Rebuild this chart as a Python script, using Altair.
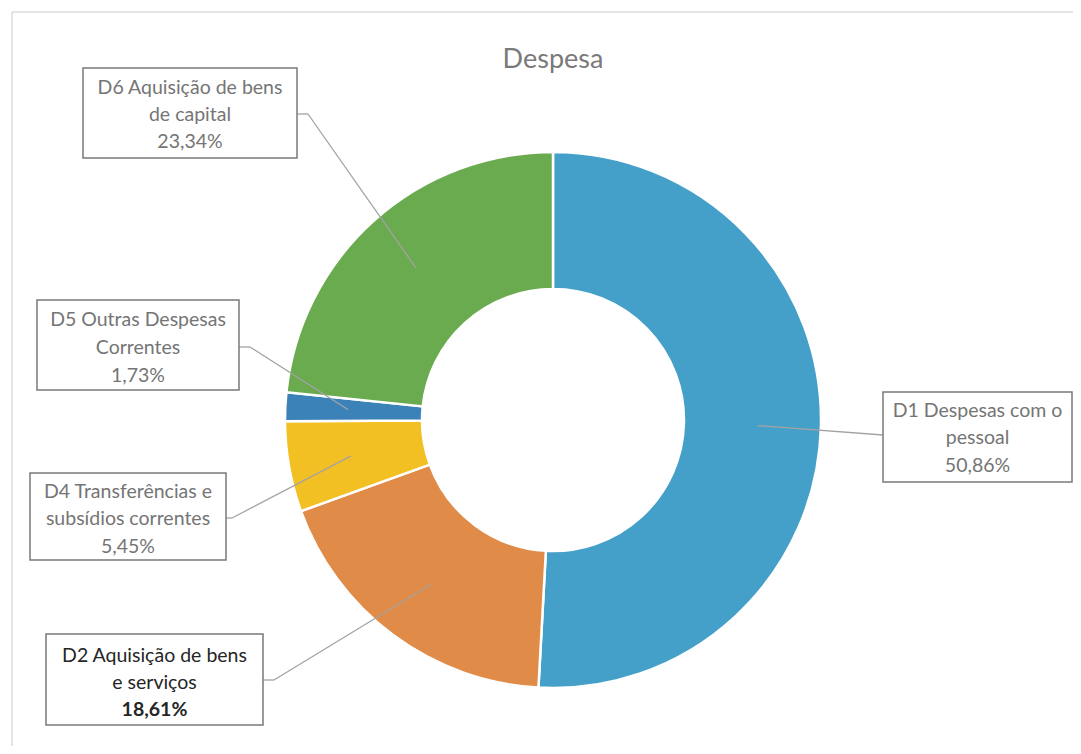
import math
import altair as alt
import pandas as pd

# ---- data ----
categories = ["D1", "D2", "D4", "D5", "D6"]
line1 = ["D1 Despesas com o", "D2 Aquisição de bens", "D4 Transferências e",
         "D5 Outras Despesas", "D6 Aquisição de bens"]
line2 = ["pessoal", "e serviços", "subsídios correntes", "Correntes", "de capital"]
shares = [50.86, 18.61, 5.45, 1.73, 23.34]
colors = ["#45a0c9", "#e08b47", "#f3c023", "#3b82b8", "#6aab50"]
title_text = "Despesa"

# ---- layout (page pixels) ----
OFF = 8
W, H = 1065, 738
CX, CY = 553, 420
R_OUT, R_IN = 268, 131
R_LEAD = 205
boxes = {  # x0, y0, x1, y1
    "D1": (883, 392, 1072, 482),
    "D2": (46, 634, 263, 725),
    "D4": (30, 473, 226, 560),
    "D5": (37, 300, 239, 390),
    "D6": (83, 68, 297, 158),
}
line_ys = {
    "D1": (411, 438, 466),
    "D2": (656, 683, 710),
    "D4": (492, 519, 547),
    "D5": (320, 348, 376),
    "D6": (88, 115, 142),
}
anchors = {  # box attach point, elbow point
    "D1": ((883, 435), (883, 435)),
    "D2": ((263, 680), (274, 680)),
    "D4": ((226, 518), (232, 518)),
    "D5": ((239, 347), (250, 347)),
    "D6": ((297, 114), (308, 114)),
}
text_colors = {"D2": "#262626"}
FONT = "Lato"

# ---- tables ----
pie = pd.DataFrame({"cat": categories, "share": shares, "ord": range(len(categories))})

total = sum(shares)
cum = 0.0
seg_rows, box_rows, txt_rows = [], [], []
for c, l1, l2, s in zip(categories, line1, line2, shares):
    mid = (cum + s / 2) / total * 2 * math.pi
    cum += s
    px = CX + R_LEAD * math.sin(mid)
    py = CY - R_LEAD * math.cos(mid)
    (ax, ay), (ex, ey) = anchors[c]
    seg_rows.append(dict(x=ax - OFF, y=ay - OFF, x2=ex - OFF, y2=ey - OFF))
    seg_rows.append(dict(x=ex - OFF, y=ey - OFF, x2=px - OFF, y2=py - OFF))
    x0, y0, x1, y1 = boxes[c]
    box_rows.append(dict(x=x0 - OFF, y=y0 - OFF, x2=x1 - OFF, y2=y1 - OFF))
    cx = (x0 + x1) / 2 - OFF
    pct = f"{s:.2f}".replace(".", ",") + "%"
    col = text_colors.get(c, "#757575")
    for i, t in enumerate([l1, l2, pct]):
        txt_rows.append(dict(x=cx, y=line_ys[c][i] - OFF, t=t, col=col,
                             bold=(c == "D2" and i == 2)))

segs = pd.DataFrame(seg_rows)
bx = pd.DataFrame(box_rows)
tx = pd.DataFrame(txt_rows)

xs = alt.Scale(domain=[0, W], range=[0, W], nice=False, zero=False)
ys = alt.Scale(domain=[0, H], range=[0, H], nice=False, zero=False)

frame = alt.Chart(pd.DataFrame([
    dict(x=12 - OFF, y=12 - OFF, x2=W, y2=12 - OFF),
    dict(x=12 - OFF, y=12 - OFF, x2=12 - OFF, y2=H),
])).mark_rule(color="#dcdcdc", strokeWidth=1.5).encode(
    x=alt.X("x:Q", scale=xs, axis=None), y=alt.Y("y:Q", scale=ys, axis=None),
    x2="x2:Q", y2="y2:Q")

arc = alt.Chart(pie).mark_arc(outerRadius=R_OUT, innerRadius=R_IN, stroke="white",
                              strokeWidth=2.5).encode(
    theta=alt.Theta("share:Q", stack=True),
    order=alt.Order("ord:Q"),
    color=alt.Color("cat:N", scale=alt.Scale(domain=categories, range=colors), legend=None),
    x=alt.value(CX - OFF), y=alt.value(CY - OFF),
)

leaders = alt.Chart(segs).mark_rule(color="#a3a3a3", strokeWidth=1.3).encode(
    x=alt.X("x:Q", scale=xs, axis=None), y=alt.Y("y:Q", scale=ys, axis=None),
    x2="x2:Q", y2="y2:Q")

rects = alt.Chart(bx).mark_rect(fill="white", stroke="#7a7a7a", strokeWidth=1.5).encode(
    x=alt.X("x:Q", scale=xs, axis=None), y=alt.Y("y:Q", scale=ys, axis=None),
    x2="x2:Q", y2="y2:Q")


def text_layer(df, weight):
    return alt.Chart(df).mark_text(font=FONT, fontSize=19.5, align="center",
                                   baseline="middle", fontWeight=weight).encode(
        x=alt.X("x:Q", scale=xs, axis=None), y=alt.Y("y:Q", scale=ys, axis=None),
        text="t:N", color=alt.Color("col:N", scale=None))


texts_normal = text_layer(tx[~tx["bold"]], "normal")
texts_bold = text_layer(tx[tx["bold"]], "bold")

title = alt.Chart(pd.DataFrame({"t": [title_text]})).mark_text(
    font=FONT, fontSize=27, color="#7a7a7a", align="center", baseline="middle").encode(
    x=alt.value(553 - OFF), y=alt.value(60 - OFF), text="t:N")

chart = alt.layer(frame, arc, leaders, rects, texts_normal, texts_bold, title).properties(
    width=W, height=H, autosize=alt.AutoSizeParams(type="none"), padding=0,
    background="white"
).configure_view(stroke=None)

chart.save("out.html", embed_options={"renderer": "svg", "actions": False})
